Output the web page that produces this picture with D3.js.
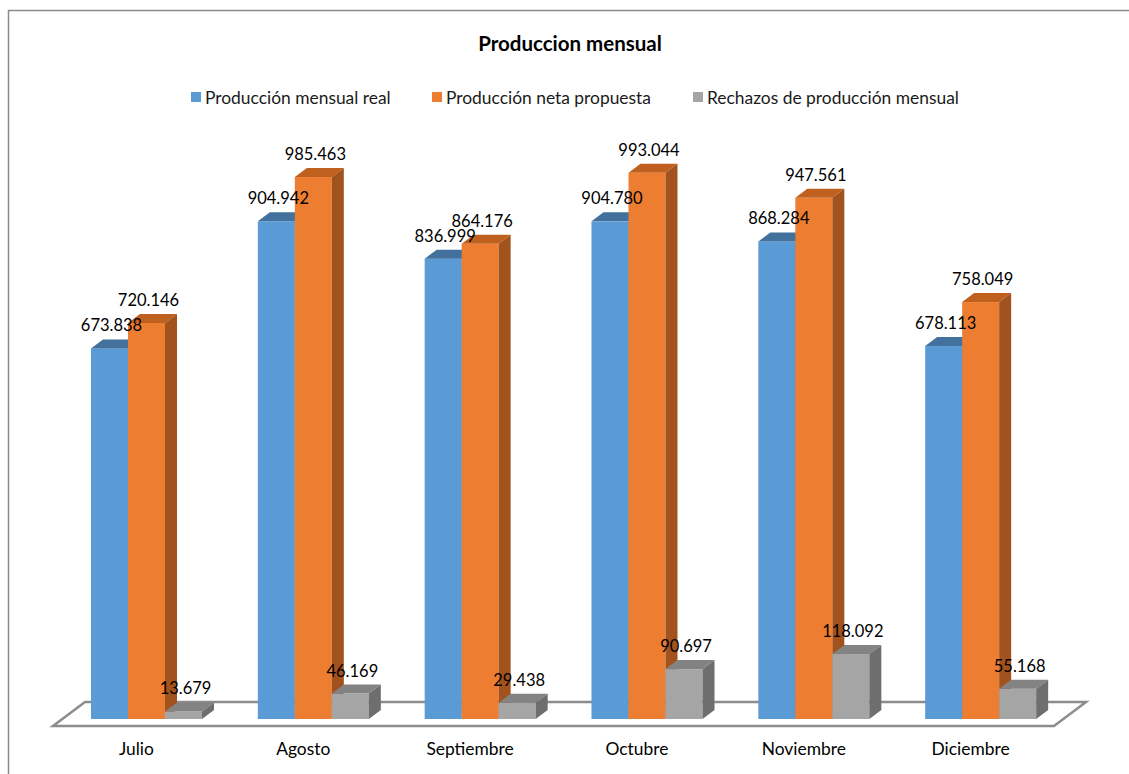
<!DOCTYPE html>
<html><head><meta charset="utf-8">
<script src="https://cdn.jsdelivr.net/npm/d3@7"></script>
<style>
html,body{margin:0;padding:0;background:#fff;}
svg{display:block;font-family:Lato,"Open Sans",sans-serif;}
</style></head>
<body>
<svg id="chart" width="1129" height="774"></svg>
<script>
const categories = ["Julio","Agosto","Septiembre","Octubre","Noviembre","Diciembre"];
const seriesNames = ["Producción mensual real","Producción neta propuesta","Rechazos de producción mensual"];
const realValues = [673838, 904942, 836999, 904780, 868284, 678113];
const netaValues = [720146, 985463, 864176, 993044, 947561, 758049];
const rechazoValues = [13679, 46169, 29438, 90697, 118092, 55168];
const title = "Produccion mensual";

const seriesValues = [realValues, netaValues, rechazoValues];
const colors = [
  {front:"#5B9BD5", top:"#41719C", side:"#3F6E99"},
  {front:"#ED7D31", top:"#C0601E", side:"#A2521C"},
  {front:"#A5A5A5", top:"#838383", side:"#6E6E6E"}
];

const svg = d3.select("#chart");
const loc = d3.formatLocale({decimal:",", thousands:".", grouping:[3], currency:["",""]});
const fmt = loc.format(",d");

// chart border
svg.append("rect").attr("x",8.5).attr("y",10.5).attr("width",1130).attr("height",780)
  .attr("fill","none").attr("stroke","#8a8a8a").attr("stroke-width",1.5);

// title
svg.append("text").attr("x",570).attr("y",51).attr("text-anchor","middle")
  .attr("font-weight","bold").attr("font-size",20.5).attr("fill","#000").text(title);

// legend
const legX = [191, 432, 693];
seriesNames.forEach((s,i)=>{
  const g = svg.append("g").attr("transform",`translate(${legX[i]},92)`);
  g.append("rect").attr("width",10).attr("height",10).attr("fill",colors[i].front);
  g.append("text").attr("x",14).attr("y",11.5).attr("font-size",17.4).attr("fill","#1a1a1a").text(s);
});

// scales
const x = d3.scaleBand().domain(categories).range([53,1054]);
const xs = d3.scaleBand().domain(d3.range(seriesNames.length)).range([38,149]);
const y = d3.scaleLinear().domain([0,1000000]).range([719,169]);
const dx = 12, dy = -9;
const fdx = 32, fdy = -24;

// floor
const x0 = x.range()[0], x1 = x.range()[1], yf = 726;
svg.append("polygon")
  .attr("points",[[x0,yf],[x1,yf],[x1+fdx,yf+fdy],[x0+fdx,yf+fdy]].map(p=>p.join(",")).join(" "))
  .attr("fill","#fff").attr("stroke","#8c8c8c").attr("stroke-width",2.5).attr("stroke-linejoin","miter");

// bars
categories.forEach((c,ci)=>{
  const g = svg.append("g");
  seriesValues.forEach((vals,si)=>{
    const v = vals[ci];
    const bx = x(c)+xs(si), bw = xs.bandwidth();
    const yt = y(v), yb = y(0);
    const col = colors[si];
    g.append("rect").attr("x",bx).attr("y",yt).attr("width",bw).attr("height",yb-yt).attr("fill",col.front);
    g.append("polygon").attr("points",[[bx,yt],[bx+bw,yt],[bx+bw+dx,yt+dy],[bx+dx,yt+dy]].map(p=>p.join(",")).join(" "))
      .attr("fill",col.top);
    g.append("polygon").attr("points",[[bx+bw,yt],[bx+bw+dx,yt+dy],[bx+bw+dx,yb+dy],[bx+bw,yb]].map(p=>p.join(",")).join(" "))
      .attr("fill",col.side);
  });
  seriesValues.forEach((vals,si)=>{
    const v = vals[ci];
    const bx = x(c)+xs(si), bw = xs.bandwidth();
    svg.append("text").attr("x",bx+bw/2+2).attr("y",y(v)-17).attr("text-anchor","middle")
      .attr("font-size",16.5).attr("fill","#000").text(fmt(v));
  });
});

// category labels
categories.forEach(c=>{
  svg.append("text").attr("x",x(c)+x.bandwidth()/2).attr("y",755).attr("text-anchor","middle")
    .attr("font-size",17.4).attr("fill","#000").text(c);
});
</script>
</body></html>
